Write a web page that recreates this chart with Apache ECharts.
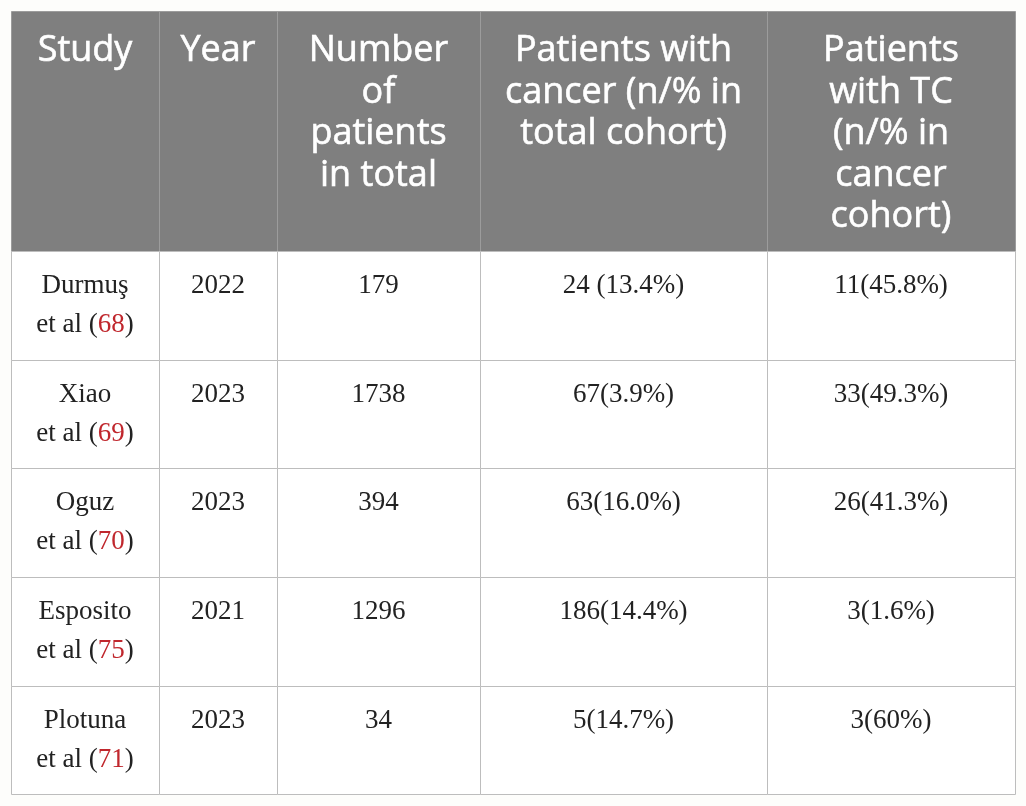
<!DOCTYPE html>
<html lang="en">
<head>
    <meta charset="UTF-8">
    <title>Studies table</title>
    <style>
        html, body { margin: 0; padding: 0; background: #fdfdfb; }
        #main { width: 1026px; height: 806px; }
    </style>
</head>
<body>
    <div id="main"></div>
    <script src="https://cdn.jsdelivr.net/npm/echarts@6/dist/echarts.min.js"></script>
    <script>
        // table content
        var headers = ['Study', 'Year', 'Number\nof\npatients\nin total',
            'Patients with\ncancer (n/% in\ntotal cohort)',
            'Patients\nwith TC\n(n/% in\ncancer\ncohort)'];
        var studies = ['Durmuş', 'Xiao', 'Oguz', 'Esposito', 'Plotuna'];
        var refs = ['68', '69', '70', '75', '71'];
        var years = ['2022', '2023', '2023', '2021', '2023'];
        var totals = ['179', '1738', '394', '1296', '34'];
        var withCancer = ['24 (13.4%)', '67(3.9%)', '63(16.0%)', '186(14.4%)', '5(14.7%)'];
        var withTC = ['11(45.8%)', '33(49.3%)', '26(41.3%)', '3(1.6%)', '3(60%)'];

        // layout (axis units = px inside the grid)
        var colWidths = [148, 118, 203, 287, 248];
        var rowHeights = [240, 109, 108, 109, 109, 108];

        function cumsum(arr) {
            var out = [0];
            for (var i = 0; i < arr.length; i++) out.push(out[i] + arr[i]);
            return out;
        }
        var colEdges = cumsum(colWidths);
        var rowEdges = cumsum(rowHeights);

        // cells: [col, row, text]
        var cells = [];
        headers.forEach(function (h, c) { cells.push([c, 0, h]); });
        studies.forEach(function (s, i) {
            cells.push([0, i + 1, s + '\net al ({r|' + refs[i] + '})']);
            cells.push([1, i + 1, years[i]]);
            cells.push([2, i + 1, totals[i]]);
            cells.push([3, i + 1, withCancer[i]]);
            cells.push([4, i + 1, withTC[i]]);
        });

        var myChart = echarts.init(document.getElementById('main'));
        var option = {
            animation: false,
            grid: { left: 11, top: 11, right: 11, bottom: 12 },
            xAxis: { type: 'value', min: 0, max: colEdges[colEdges.length - 1], show: false },
            yAxis: { type: 'value', min: 0, max: rowEdges[rowEdges.length - 1], inverse: true, show: false },
            series: [{
                type: 'custom',
                data: cells,
                renderItem: function (params, api) {
                    var c = api.value(0), r = api.value(1);
                    var p0 = api.coord([colEdges[c], rowEdges[r]]);
                    var p1 = api.coord([colEdges[c + 1], rowEdges[r + 1]]);
                    var isHead = r === 0;
                    var text = cells[params.dataIndex][2];
                    var textStyle = {
                        text: text,
                        align: 'center',
                        verticalAlign: 'top',
                        fill: isHead ? '#ffffff' : '#222222',
                        font: isHead ? '36px "Open Sans"' : '27px "Liberation Serif"',
                        lineHeight: isHead ? 41.5 : 39,
                        rich: {
                            r: {
                                fill: '#c0272d',
                                font: '27px "Liberation Serif"',
                                lineHeight: 39
                            }
                        }
                    };
                    if (isHead) {
                        // header face in the original is a bit heavier
                        textStyle.stroke = '#ffffff';
                        textStyle.lineWidth = 0.6;
                    }
                    return {
                        type: 'group',
                        children: [{
                            type: 'rect',
                            shape: { x: p0[0] + 0.5, y: p0[1] + 0.5, width: p1[0] - p0[0], height: p1[1] - p0[1] },
                            style: {
                                fill: isHead ? '#7f7f7f' : '#ffffff',
                                stroke: isHead ? '#9c9c9c' : '#bdbdbd',
                                lineWidth: 1
                            }
                        }, {
                            type: 'text',
                            x: (p0[0] + p1[0]) / 2,
                            y: p0[1] + (isHead ? 19 : 15),
                            style: textStyle
                        }]
                    };
                }
            }]
        };
        myChart.setOption(option);
    </script>
</body>
</html>
